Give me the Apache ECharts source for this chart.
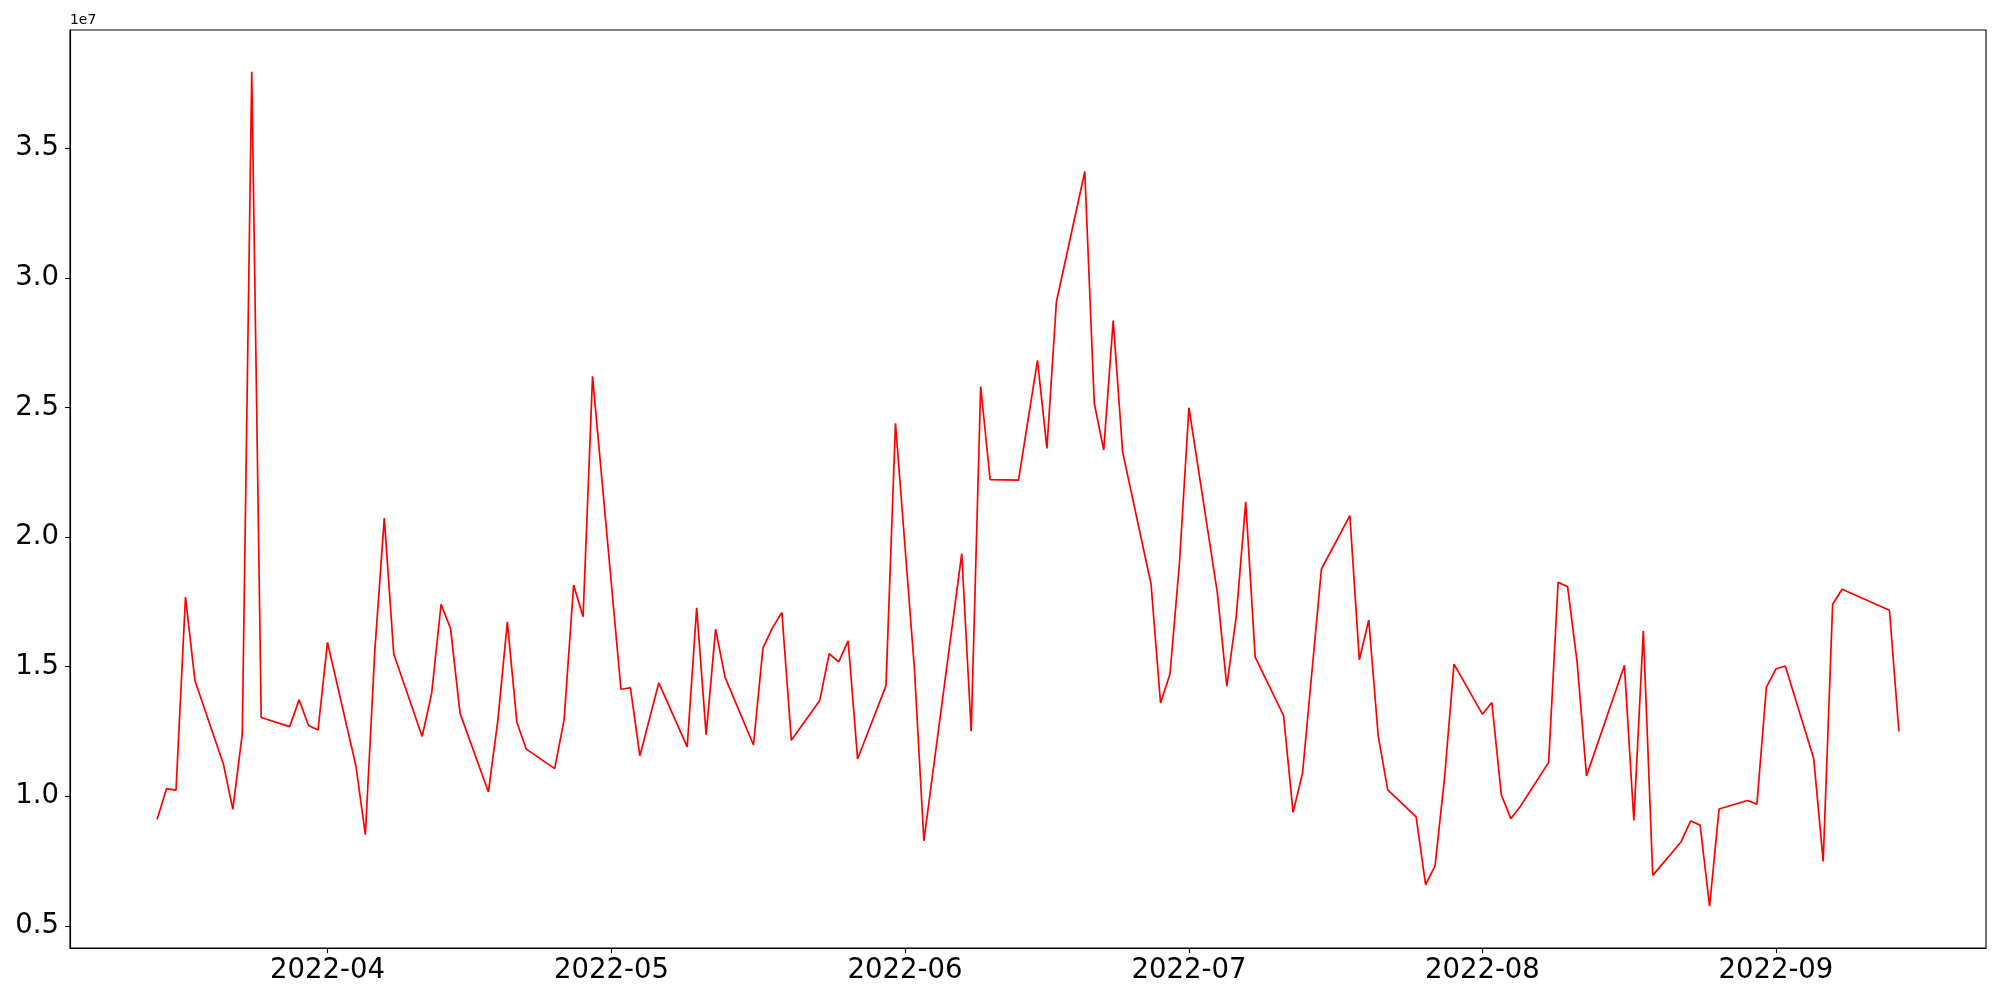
<!DOCTYPE html>
<html>
<head>
<meta charset="utf-8">
<script src="https://cdn.jsdelivr.net/npm/echarts@6/dist/echarts.min.js"></script>
<style>
html,body{margin:0;padding:0;background:#fff;}
#chart{width:2000px;height:1000px;}
</style>
</head>
<body>
<div id="chart"></div>
<script>
const dates = [
 '2022-03-14','2022-03-15','2022-03-16','2022-03-17','2022-03-18',
 '2022-03-21','2022-03-22','2022-03-23','2022-03-24','2022-03-25',
 '2022-03-28','2022-03-29','2022-03-30','2022-03-31','2022-04-01',
 '2022-04-04','2022-04-05','2022-04-06','2022-04-07','2022-04-08',
 '2022-04-11','2022-04-12','2022-04-13','2022-04-14','2022-04-15',
 '2022-04-18','2022-04-19','2022-04-20','2022-04-21','2022-04-22',
 '2022-04-25','2022-04-26','2022-04-27','2022-04-28','2022-04-29',
 '2022-05-02','2022-05-03','2022-05-04','2022-05-06',
 '2022-05-09','2022-05-10','2022-05-11','2022-05-12','2022-05-13',
 '2022-05-16','2022-05-17','2022-05-18','2022-05-19','2022-05-20',
 '2022-05-23','2022-05-24','2022-05-25','2022-05-26','2022-05-27',
 '2022-05-30','2022-05-31','2022-06-02','2022-06-03',
 '2022-06-07','2022-06-08','2022-06-09','2022-06-10',
 '2022-06-13','2022-06-15','2022-06-16','2022-06-17',
 '2022-06-20','2022-06-21','2022-06-22','2022-06-23','2022-06-24',
 '2022-06-27','2022-06-28','2022-06-29','2022-06-30','2022-07-01',
 '2022-07-04','2022-07-05','2022-07-06','2022-07-07','2022-07-08',
 '2022-07-11','2022-07-12','2022-07-13','2022-07-15',
 '2022-07-18','2022-07-19','2022-07-20','2022-07-21','2022-07-22',
 '2022-07-25','2022-07-26','2022-07-27','2022-07-28','2022-07-29',
 '2022-08-01','2022-08-02','2022-08-03','2022-08-04','2022-08-05',
 '2022-08-08','2022-08-09','2022-08-10','2022-08-11','2022-08-12',
 '2022-08-16','2022-08-17','2022-08-18','2022-08-19',
 '2022-08-22','2022-08-23','2022-08-24','2022-08-25','2022-08-26',
 '2022-08-29','2022-08-30','2022-08-31','2022-09-01','2022-09-02',
 '2022-09-05','2022-09-06','2022-09-07','2022-09-08',
 '2022-09-13','2022-09-14'
];
const volumes = [
 9110000,10300000,10240000,17690000,14460000,
 11250000,9500000,12410000,37950000,13040000,
 12690000,13720000,12730000,12560000,15940000,
 11180000,8520000,15620000,20730000,15490000,
 12310000,13960000,17410000,16480000,13210000,
 10170000,12940000,16730000,12870000,11820000,
 11070000,12970000,18150000,16930000,26200000,
 14130000,14190000,11560000,14380000,
 11910000,17270000,12380000,16450000,14590000,
 11980000,15720000,16500000,17090000,12160000,
 13700000,15500000,15190000,16000000,11440000,
 14270000,24390000,14940000,8280000,
 19360000,12510000,25810000,22220000,
 22200000,26820000,23420000,29070000,
 34100000,25170000,23360000,28350000,23280000,
 18180000,13600000,14720000,19000000,24990000,
 17860000,14250000,16940000,21360000,15370000,
 13110000,9380000,10890000,18770000,
 20830000,15270000,16800000,12320000,10250000,
 9210000,6590000,7320000,10700000,15100000,
 13170000,13620000,10060000,9140000,9610000,
 11310000,18260000,18090000,15200000,10790000,
 15050000,9070000,16380000,6950000,
 8250000,9050000,8890000,5760000,9510000,
 9840000,9700000,14210000,14910000,15030000,
 11460000,7490000,17410000,17990000,
 17180000,12500000
];
const xTickLabels = ['2022-04','2022-05','2022-06','2022-07','2022-08','2022-09'];
const yTickLabels = ['0.5','1.0','1.5','2.0','2.5','3.0','3.5'];
const yScaleLabel = '1e7';

const toMs = s => Date.parse(s + 'T00:00:00Z');
const xs = dates.map(toMs);
const seriesData = xs.map((t, i) => [t, volumes[i]]);
const xMinD = Math.min(...xs), xMaxD = Math.max(...xs);
const xPad = (xMaxD - xMinD) * 0.05;
const yMinD = Math.min(...volumes), yMaxD = Math.max(...volumes);
const yPad = (yMaxD - yMinD) * 0.05;
const xTickVals = xTickLabels.map(m => toMs(m + '-01'));
const yTickVals = yTickLabels.map(v => parseFloat(v) * 1e7);
const FONT = 'DejaVu Sans';

const chart = echarts.init(document.getElementById('chart'), null, {renderer: 'canvas'});
chart.setOption({
  animation: false,
  backgroundColor: '#ffffff',
  grid: {left: 70, right: 14, top: 30, bottom: 52, show: true, borderColor: '#000', borderWidth: 1.1, backgroundColor: 'transparent'},
  xAxis: {
    type: 'value',
    min: xMinD - xPad,
    max: xMaxD + xPad,
    axisLine: {show: true, onZero: false, lineStyle: {color: '#000', width: 1.1}},
    axisTick: {show: true, inside: false, length: 5, lineStyle: {color: '#000', width: 1.1}, customValues: xTickVals},
    axisLabel: {
      show: true, margin: 9, color: '#000', fontFamily: FONT, fontSize: 27.5,
      customValues: xTickVals,
      formatter: v => { const i = xTickVals.indexOf(v); return i >= 0 ? xTickLabels[i] : ''; }
    },
    splitLine: {show: false}
  },
  yAxis: {
    type: 'value',
    min: yMinD - yPad,
    max: yMaxD + yPad,
    name: yScaleLabel,
    nameLocation: 'end',
    nameGap: 3,
    nameTextStyle: {align: 'left', verticalAlign: 'bottom', color: '#000', fontFamily: FONT, fontSize: 13.9, padding: [0, 0, 0, 0]},
    axisLine: {show: true, lineStyle: {color: '#000', width: 1.1}},
    axisTick: {show: true, inside: false, length: 5, lineStyle: {color: '#000', width: 1.1}, customValues: yTickVals},
    axisLabel: {
      show: true, margin: 11, color: '#000', fontFamily: FONT, fontSize: 27.5,
      customValues: yTickVals,
      formatter: v => { const i = yTickVals.findIndex(t => Math.abs(t - v) < 1); return i >= 0 ? yTickLabels[i] : ''; }
    },
    splitLine: {show: false}
  },
  series: [{
    type: 'line',
    data: seriesData,
    showSymbol: false,
    symbol: 'none',
    lineStyle: {color: '#ff0000', width: 1.7},
    itemStyle: {color: '#ff0000'},
    clip: true
  }]
});
</script>
</body>
</html>
